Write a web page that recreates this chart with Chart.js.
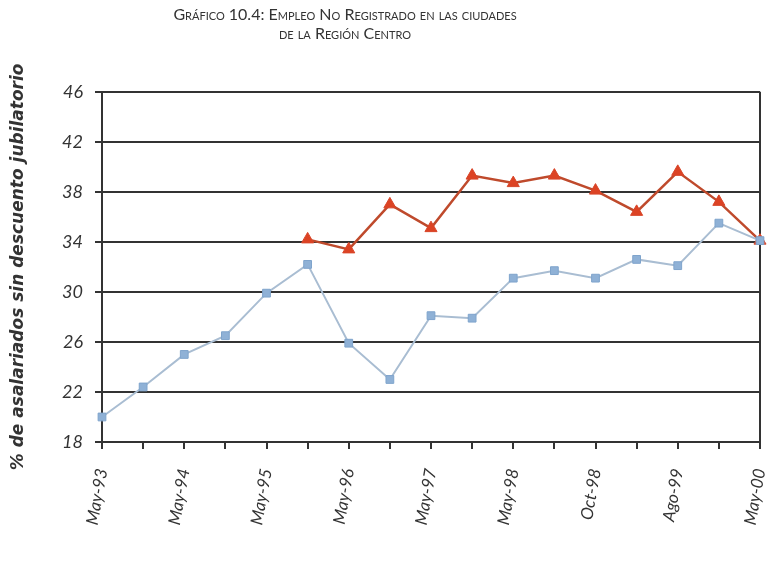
<!DOCTYPE html>
<html>
<head>
<meta charset="utf-8">
<script src="https://cdn.jsdelivr.net/npm/chart.js@4/dist/chart.umd.min.js"></script>
<style>
html,body{margin:0;padding:0;background:#ffffff;}
#wrap{width:769px;height:565px;}
</style>
</head>
<body>
<div id="wrap"><canvas id="c" width="769" height="565"></canvas></div>
<script>
// ---- data ----
const categories = ['May-93','Oct-93','May-94','Oct-94','May-95','Oct-95','May-96','Oct-96',
                    'May-97','Oct-97','May-98','Ago-98','Oct-98','May-99','Ago-99','Oct-99','May-00'];
const shownLabels = ['May-93','May-94','May-95','May-96','May-97','May-98','Oct-98','Ago-99','May-00'];
const blueSeries = [20.0, 22.4, 25.0, 26.5, 29.9, 32.2, 25.9, 23.0, 28.1, 27.9, 31.1, 31.7, 31.1, 32.6, 32.1, 35.5, 34.1];
const redSeries  = [null, null, null, null, null, 34.2, 33.4, 37.0, 35.1, 39.3, 38.7, 39.3, 38.1, 36.4, 39.6, 37.2, 34.1];
const yTickValues = [18, 22, 26, 30, 34, 38, 42, 46];
const titleLines = ['Gráfico 10.4: Empleo No Registrado en las ciudades', 'de la Región Centro'];
const yAxisTitle = '% de asalariados sin descuento jubilatorio';

const ink = '#333333';

const titleShift = {
  id: 'titleShift',
  afterLayout(chart) {
    const t = chart.titleBlock;
    if (t) { t.left = 0; t.right = 690; }
  }
};

new Chart(document.getElementById('c'), {
  type: 'line',
  data: {
    labels: categories,
    datasets: [
      {
        label: 'Serie 1',
        data: blueSeries,
        borderColor: '#a9bdd2',
        backgroundColor: '#8fb1d6',
        pointBorderColor: '#7fa4cc',
        pointStyle: 'rect',
        pointRadius: 5.5,
        pointBorderWidth: 1,
        borderWidth: 2,
        tension: 0
      },
      {
        label: 'Serie 2',
        data: redSeries,
        borderColor: '#bf4a2c',
        backgroundColor: '#dc4324',
        pointBorderColor: '#d8462a',
        pointStyle: 'triangle',
        pointRadius: 7,
        pointBorderWidth: 1,
        borderWidth: 2.5,
        tension: 0,
        spanGaps: false
      }
    ]
  },
  options: {
    responsive: false,
    animation: false,
    devicePixelRatio: 1,
    layout: { padding: { left: 0, right: 9, top: 0, bottom: 0 } },
    plugins: {
      legend: { display: false },
      tooltip: { enabled: false },
      title: {
        display: true,
        text: titleLines,
        color: ink,
        font: { family: 'Lato, "Open Sans", sans-serif', size: 16, weight: 'small-caps', lineHeight: 1.15 },
        padding: { top: 6, bottom: 49 }
      }
    },
    scales: {
      x: {
        type: 'category',
        offset: false,
        afterFit(s) { s.height = 123; s.paddingLeft = 0; s.paddingRight = 0; },
        grid: {
          drawOnChartArea: true,
          color: (ctx) => (ctx.index === categories.length - 1 ? ink : 'rgba(0,0,0,0)'),
          tickColor: ink,
          lineWidth: 2,
          tickLength: 7
        },
        border: { display: true, color: ink, width: 2 },
        ticks: {
          autoSkip: false,
          minRotation: 80,
          maxRotation: 80,
          padding: 18,
          color: ink,
          font: { family: 'Lato, sans-serif', size: 17, style: 'italic' },
          callback(value, index) {
            const lab = categories[index];
            return shownLabels.includes(lab) && index % 2 === 0 ? lab : '';
          }
        }
      },
      y: {
        min: 18,
        max: 46,
        afterFit(s) { s.width = 102; },
        afterBuildTicks(s) { s.ticks = yTickValues.map(v => ({ value: v })); },
        grid: { color: ink, lineWidth: 2, tickLength: 7, tickColor: ink },
        border: { display: true, color: ink, width: 2 },
        ticks: {
          padding: 12,
          color: ink,
          font: { family: 'Lato, sans-serif', size: 18, style: 'italic' }
        },
        title: {
          display: true,
          text: yAxisTitle,
          color: ink,
          padding: { top: 8, bottom: 0 },
          font: { family: '"DejaVu Sans", sans-serif', size: 17, style: 'italic', weight: 'bold' }
        }
      }
    }
  },
  plugins: [titleShift]
});
</script>
</body>
</html>
